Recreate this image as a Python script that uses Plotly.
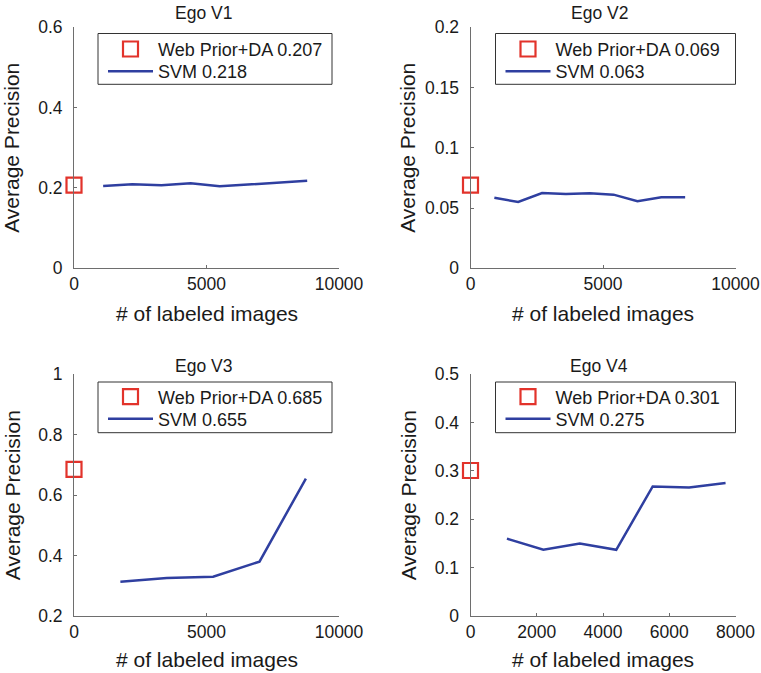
import plotly.graph_objects as go

# ---------------- data ----------------
titles = ["Ego V1", "Ego V2", "Ego V3", "Ego V4"]
x_title = "# of labeled images"
y_title = "Average Precision"

v1_x = [1100, 2200, 3300, 4400, 5500, 6600, 7700, 8800]
v1_y = [0.205, 0.209, 0.207, 0.212, 0.204, 0.209, 0.214, 0.218]

v2_x = [900, 1800, 2700, 3600, 4500, 5400, 6300, 7200, 8100]
v2_y = [0.0586, 0.0550, 0.0625, 0.0617, 0.0622, 0.0611, 0.0556, 0.0589, 0.0589]

v3_x = [1750, 3500, 5250, 7000, 8750]
v3_y = [0.313, 0.326, 0.330, 0.380, 0.655]

v4_x = [1100, 2200, 3300, 4400, 5500, 6600, 7700]
v4_y = [0.160, 0.137, 0.150, 0.137, 0.268, 0.266, 0.275]

svm_x = [v1_x, v2_x, v3_x, v4_x]
svm_y = [v1_y, v2_y, v3_y, v4_y]

prior_ap = [0.207, 0.069, 0.685, 0.301]
svm_ap = [0.218, 0.063, 0.655, 0.275]

y_ticks = [
    [0, 0.2, 0.4, 0.6],
    [0, 0.05, 0.1, 0.15, 0.2],
    [0.2, 0.4, 0.6, 0.8, 1],
    [0, 0.1, 0.2, 0.3, 0.4, 0.5],
]
y_ticktext = [
    ["0", "0.2", "0.4", "0.6"],
    ["0", "0.05", "0.1", "0.15", "0.2"],
    ["0.2", "0.4", "0.6", "0.8", "1"],
    ["0", "0.1", "0.2", "0.3", "0.4", "0.5"],
]
x_ticks = [
    [0, 5000, 10000],
    [0, 5000, 10000],
    [0, 5000, 10000],
    [0, 2000, 4000, 6000, 8000],
]
x_ticktext = [
    ["0", "5000", "10000"],
    ["0", "5000", "10000"],
    ["0", "5000", "10000"],
    ["0", "2000", "4000", "6000", "8000"],
]

# ---------------- layout geometry (pixels) ----------------
W, H = 761, 673
FONT = "Liberation Sans, Arial, Helvetica, sans-serif"
RED = "#e2332b"
BLUE = "#2f3fa0"
AXIS = "#6e6e6e"
TXT = "#1a1a1a"

# plot boxes (left, right, top, bottom)
boxes = [
    (74, 339, 27.3, 268.3),
    (470.5, 735.5, 27.3, 268.3),
    (74, 339, 374.3, 616),
    (470.5, 735.5, 374.3, 616),
]
# legend frames (left, right, top, bottom)
frames = [
    (98, 332, 33.5, 84.3),
    (495.5, 735.5, 33.5, 84.3),
    (98, 332, 382, 432.7),
    (495.5, 735.5, 382, 432.7),
]
# legend item centres (text x start, marker row y, line row y)
items = [
    (159, 49.3, 71.5),
    (556.5, 49.3, 71.5),
    (159, 397, 419),
    (556.5, 397, 419),
]
title_pos = [(203, 13), (599, 13), (203, 366.5), (599, 366.5)]
ytitle_x = [12, 408, 12, 408]
xtitle_y = [313.5, 313.5, 659.5, 659.5]

fig = go.Figure()
layout = dict(
    width=W, height=H, autosize=False,
    margin=dict(l=0, r=0, t=0, b=0, pad=0, autoexpand=False),
    paper_bgcolor="white", plot_bgcolor="white",
    font=dict(family=FONT, color=TXT, size=18),
    annotations=[], shapes=[],
    showlegend=True,
)

for i in range(4):
    sfx = "" if i == 0 else str(i + 1)
    xa, ya = "x" + sfx, "y" + sfx
    lg_a = "legend" + sfx
    lg_b = "legend" + str(i + 5)
    fig.add_trace(go.Scatter(
        x=[0], y=[prior_ap[i]], mode="markers",
        name="Web Prior+DA %.3f" % prior_ap[i],
        marker=dict(symbol="square-open", size=15, color=RED,
                    line=dict(color=RED, width=2.2)),
        cliponaxis=False, xaxis=xa, yaxis=ya, legend=lg_a,
    ))
    fig.add_trace(go.Scatter(
        x=svm_x[i], y=svm_y[i], mode="lines",
        name="SVM %.3f" % svm_ap[i],
        line=dict(color=BLUE, width=2.5),
        cliponaxis=False, xaxis=xa, yaxis=ya, legend=lg_b,
    ))
    l, r, t, b = boxes[i]
    layout["xaxis" + sfx] = dict(
        domain=[l / W, r / W], anchor=ya, automargin=False,
        range=[x_ticks[i][0], x_ticks[i][-1]],
        tickvals=x_ticks[i], ticktext=x_ticktext[i],
        showline=True, linecolor=AXIS, linewidth=1,
        ticks="inside", ticklen=3, tickcolor=AXIS,
        showgrid=False, zeroline=False, ticklabeloverflow="allow",
        tickfont=dict(size=17.5), ticklabelstandoff=0,
    )
    layout["yaxis" + sfx] = dict(
        domain=[1 - b / H, 1 - t / H], anchor=xa, automargin=False,
        range=[y_ticks[i][0], y_ticks[i][-1]],
        tickvals=y_ticks[i], ticktext=y_ticktext[i],
        showline=True, linecolor=AXIS, linewidth=1,
        ticks="inside", ticklen=3, tickcolor=AXIS,
        showgrid=False, zeroline=False, ticklabeloverflow="allow",
        tickfont=dict(size=17.5), ticklabelstandoff=7,
    )
    # legend frame
    fl, fr, ft, fb = frames[i]
    layout["shapes"].append(dict(
        type="rect", xref="paper", yref="paper",
        x0=fl / W, x1=fr / W, y0=1 - fb / H, y1=1 - ft / H,
        line=dict(color="#333333", width=1), fillcolor="white", layer="below",
    ))
    tx0, ry1, ry2 = items[i]
    for lg, ry in ((lg_a, ry1), (lg_b, ry2)):
        layout[lg] = dict(
            x=(tx0 - 56) / W, y=1 - ry / H, xref="paper", yref="paper",
            xanchor="left", yanchor="middle",
            bgcolor="rgba(0,0,0,0)", borderwidth=0,
            font=dict(size=18, color=TXT), itemwidth=45,
        )
    # subplot title
    tx, ty = title_pos[i]
    layout["annotations"].append(dict(
        text=titles[i], x=tx / W, y=1 - ty / H, xref="paper", yref="paper",
        xanchor="center", yanchor="middle", showarrow=False,
        font=dict(size=17.5, color=TXT),
    ))
    # axis titles
    layout["annotations"].append(dict(
        text=x_title, x=(l + r) / 2 / W, y=1 - xtitle_y[i] / H,
        xref="paper", yref="paper", xanchor="center", yanchor="middle",
        showarrow=False, font=dict(size=21, color=TXT),
    ))
    layout["annotations"].append(dict(
        text=y_title, x=ytitle_x[i] / W, y=1 - (t + b) / 2 / H,
        xref="paper", yref="paper", xanchor="center", yanchor="middle",
        textangle=-90, showarrow=False, font=dict(size=21, color=TXT),
    ))

fig.update_layout(**layout)
fig.write_html("out.html")
